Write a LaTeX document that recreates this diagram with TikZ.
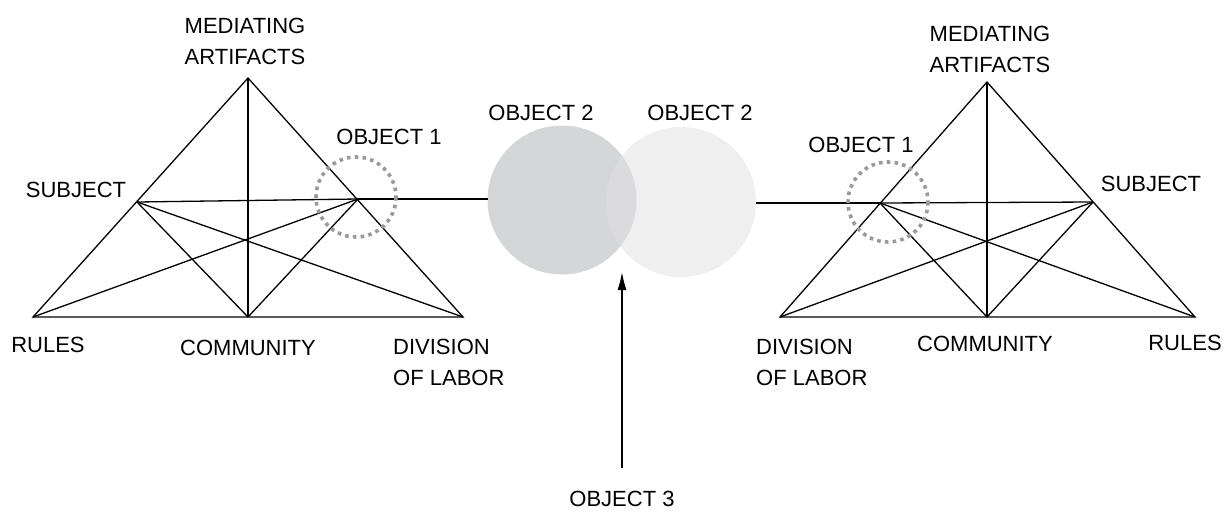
\documentclass[tikz,border=0pt]{standalone}
\usepackage{fontspec}
\setmainfont{Liberation Sans}
\usetikzlibrary{arrows.meta}
\definecolor{darkdisc}{HTML}{D5D6D8}
\definecolor{lightdisc}{HTML}{E1E1E2}
\definecolor{focusgray}{HTML}{9A9A9A}
\begin{document}
\begin{tikzpicture}[x=1pt,y=-1pt,
  edge/.style={line width=1.3pt, black},
  lbl/.style={font=\fontsize{22}{31}\selectfont, inner sep=0pt},
  focus/.style={draw=focusgray, line width=3.6pt, dash pattern=on 3.6pt off 4.2pt},
  pt/.style={inner sep=0pt, minimum size=0pt}
]
\useasboundingbox (0,0) rectangle (1225,512);

% ---------- discs ----------
\fill[darkdisc] (562,200) circle[radius=74.5];
\fill[lightdisc, fill opacity=0.54] (681,202) circle[radius=75];
\node[pt] (D1) at (487.5,199) {};
\node[pt] (D2) at (756,203) {};

% ---------- left triangle ----------
\node[pt] (LA) at (248,78) {};
\node[pt] (LR) at (33,317) {};
\node[pt] (LD) at (463,317) {};
\node[pt] (LC) at (248,317) {};
\node[pt] (LS) at (137,202) {};
\node[pt] (LO) at (358,199) {};
\draw[edge, line join=miter] (LA.center) -- (LR.center) -- (LD.center) -- cycle;
\draw[edge] (LA.center) -- (LC.center);
\draw[edge] (LS.center) -- (LO.center);
\draw[edge] (LS.center) -- (LC.center);
\draw[edge] (LS.center) -- (LD.center);
\draw[edge] (LO.center) -- (LR.center);
\draw[edge] (LO.center) -- (LC.center);
\draw[edge] (LO.center) -- (D1.center);
\draw[focus] (356,197) circle[radius=40];

% ---------- right triangle ----------
\node[pt] (RA) at (987,82) {};
\node[pt] (RD) at (780,317) {};
\node[pt] (RR) at (1195,317) {};
\node[pt] (RC) at (987,317) {};
\node[pt] (RO) at (880,203) {};
\node[pt] (RS) at (1093,202) {};
\draw[edge, line join=miter] (RA.center) -- (RD.center) -- (RR.center) -- cycle;
\draw[edge] (RA.center) -- (RC.center);
\draw[edge] (RO.center) -- (RS.center);
\draw[edge] (RO.center) -- (RC.center);
\draw[edge] (RO.center) -- (RR.center);
\draw[edge] (RS.center) -- (RD.center);
\draw[edge] (RS.center) -- (RC.center);
\draw[edge] (D2.center) -- (RO.center);
\draw[focus] (888,202) circle[radius=40];

% ---------- arrow ----------
\node[lbl] (O3) at (622,499) {OBJECT 3};
\node[pt] (AT) at (622,272) {};
\node[pt] (AB) at (622,468) {};
\draw[line width=1.3pt, -{Latex[length=18pt,width=9pt]}] (AB.center) -- (AT.center);

% ---------- labels left ----------
\node[lbl, align=center] (LMA) at (245,41) {MEDIATING\\ARTIFACTS};
\node[lbl] (LSU) at (76,190) {SUBJECT};
\node[lbl] (LOB) at (389,137) {OBJECT 1};
\node[lbl] (LRU) at (48,345) {RULES};
\node[lbl] (LCO) at (248,348) {COMMUNITY};
\node[lbl, align=left, anchor=west] (LDL) at (393,362) {DIVISION\\OF LABOR};

% ---------- labels middle ----------
\node[lbl] (O2a) at (541,113) {OBJECT 2};
\node[lbl] (O2b) at (700,113) {OBJECT 2};

% ---------- labels right ----------
\node[lbl, align=center] (RMA) at (990,49) {MEDIATING\\ARTIFACTS};
\node[lbl] (RSU) at (1151,184) {SUBJECT};
\node[lbl] (ROB) at (861,145) {OBJECT 1};
\node[lbl] (RRU) at (1185,343) {RULES};
\node[lbl] (RCO) at (985,344) {COMMUNITY};
\node[lbl, align=left, anchor=west] (RDL) at (756,362) {DIVISION\\OF LABOR};
\end{tikzpicture}
\end{document}
